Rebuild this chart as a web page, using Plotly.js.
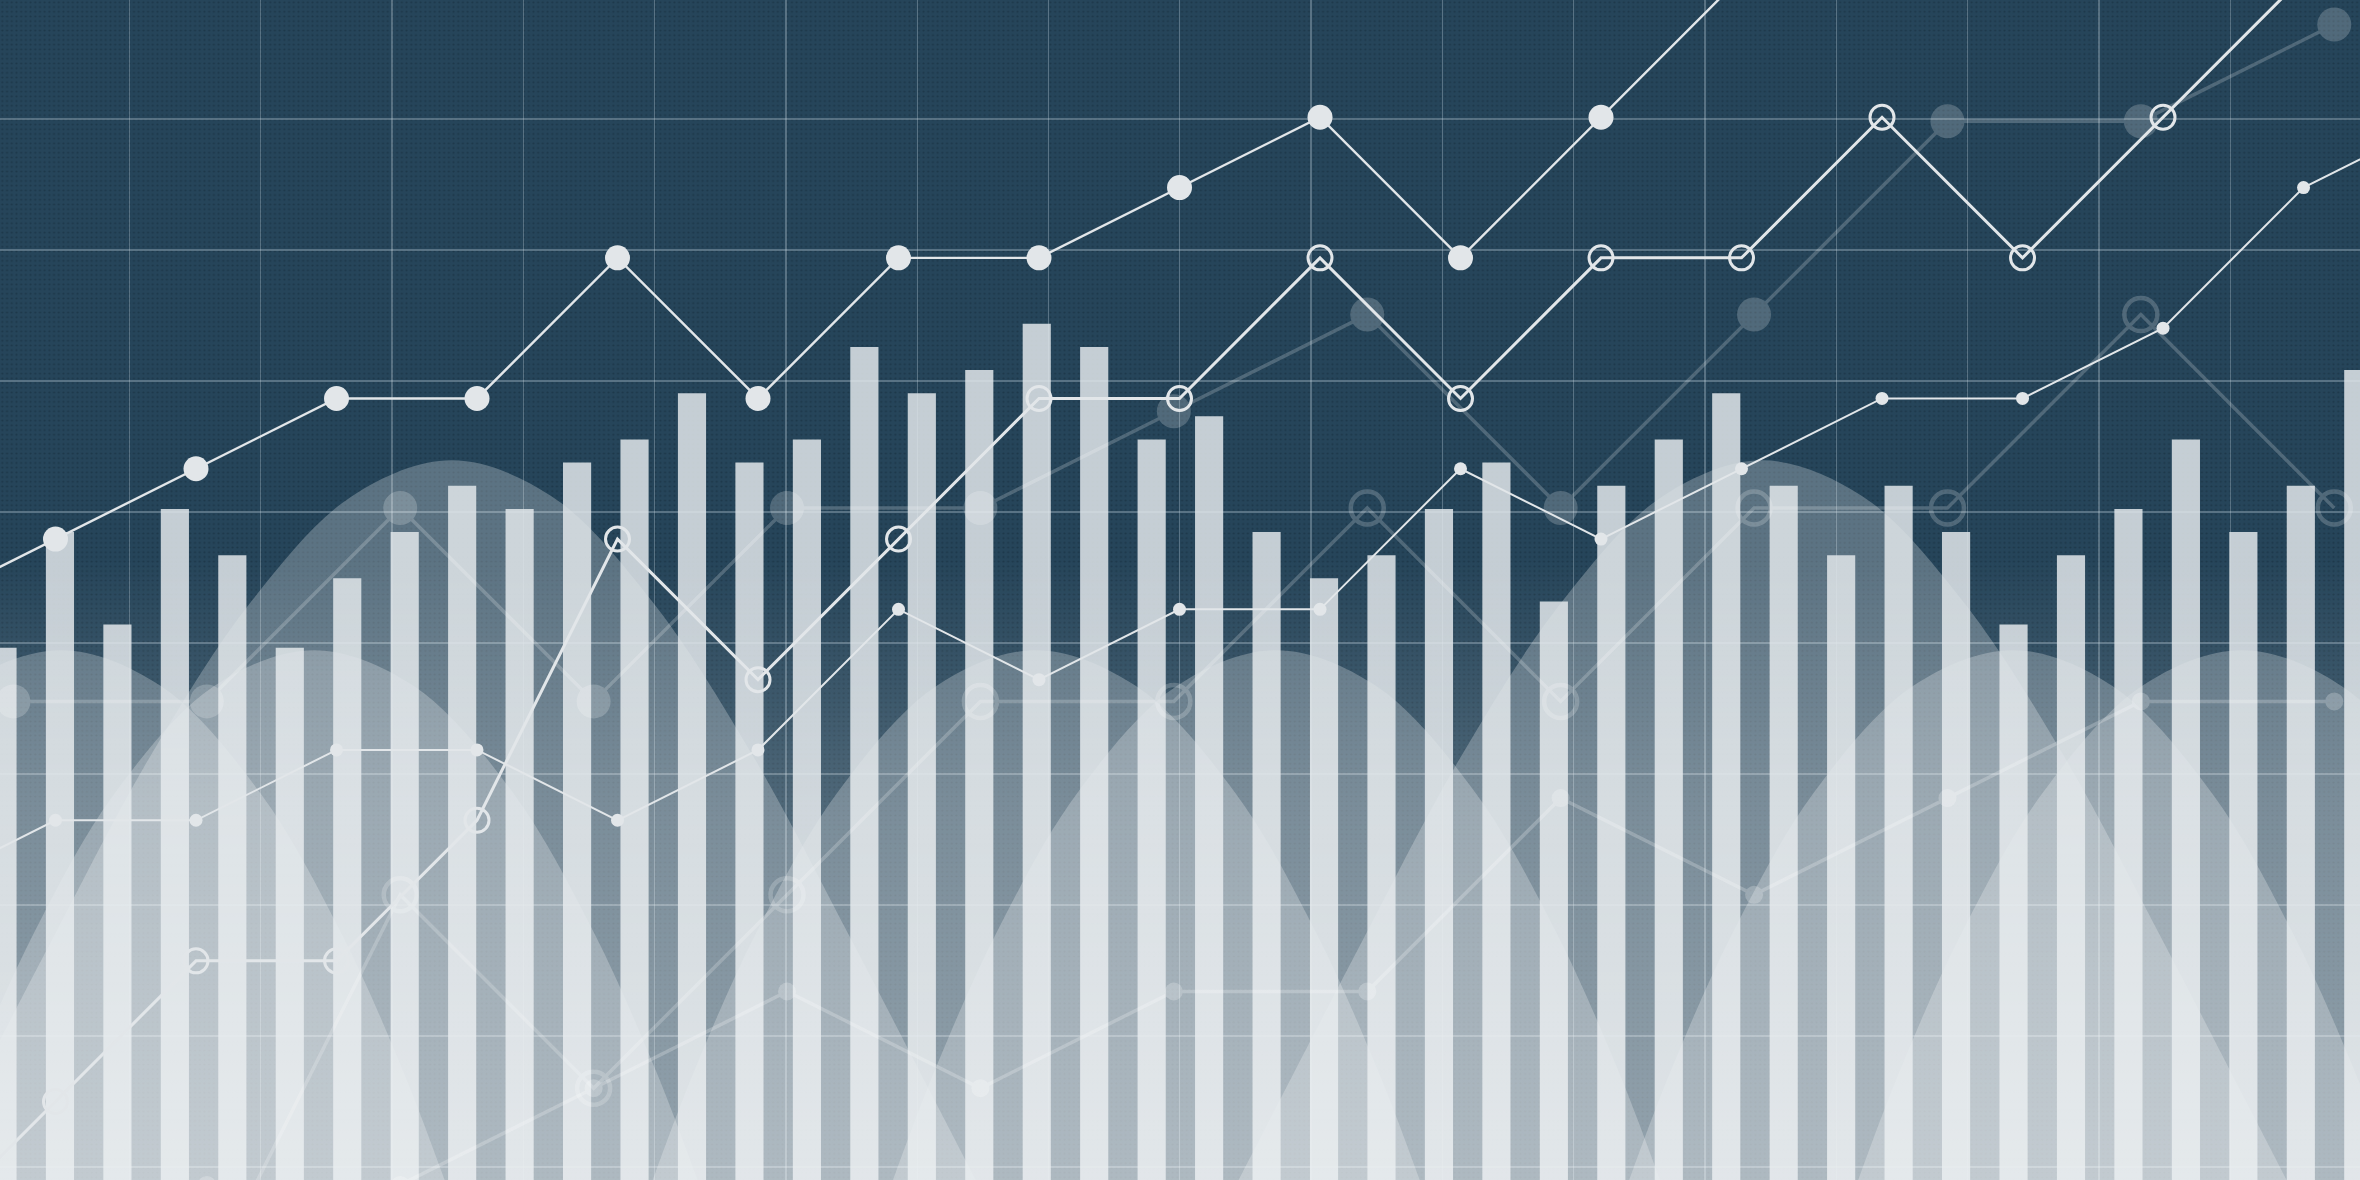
<!DOCTYPE html>
<html>
<head>
<meta charset="utf-8">
<script src="https://cdn.plot.ly/plotly-3.0.1.min.js"></script>
<style>
html,body{margin:0;padding:0;background:#26455a;overflow:hidden}
#chart{width:2360px;height:1180px}
</style>
</head>
<body>
<div id="chart"></div>
<script>
// ---------- DATA ----------
// Bar heights (42 bars, left to right)
const barValues = [23,28,24,29,27,23,26,28,30,29,31,32,34,31,32,36,34,35,37,36,32,33,28,26,27,29,31,25,30,32,34,30,27,30,28,24,27,29,32,28,30,35];

// Main line series (x = step index, y = level)
const topLineX  = [-1,0,1,2,3,4,5,6,7,8,9,10,11,12];
const topLineY  = [8,9,10,11,11,13,11,13,13,14,15,13,15,17];
const ringLineX = [-1,0,1,2,3,4,5,6,7,8,9,10,11,12,13,14,15,16];
const ringLineY = [-1,1,3,3,5,9,7,9,11,11,13,11,13,13,15,13,15,17];
const dotLineX  = [-1,0,1,2,3,4,5,6,7,8,9,10,11,12,13,14,15,16,17];
const dotLineY  = [4,5,5,6,6,5,6,8,7,8,8,10,9,10,11,11,12,14,15];

// Faint background series (own step index / level)
const faintDiscX = [0,1,2,3,4,5,6,7,8,9,10,11,12];
const faintDiscY = [5,5,7,5,7,7,8,9,7,9,11,11,12];
const faintRingX = [1,2,3,4,5,6,7,8,9,10,11,12];
const faintRingY = [-1,3,1,3,5,5,7,5,7,7,9,7];
const faintDotX  = [1,2,3,4,5,6,7,8,9,10,11,12];
const faintDotY  = [0,0,1,2,1,2,2,4,3,4,5,5];

// Bell curves: shared outlines (offset from centre, level)
const bigBellOffsets   = [-4.4,-4.06,-3.73,-3.42,-2.85,-2.14,-1.42,-0.71,0,0.71,1.42,2.14,2.85,3.42,3.73,4.06,4.4];
const bigBellLevels    = [-2.6,-1.4,-0.12,1.08,3.28,5.93,8.13,9.61,10.12,9.61,8.13,5.93,3.28,1.08,-0.12,-1.4,-2.6];
const smallBellOffsets = [-3.3,-2.99,-2.73,-2.42,-1.99,-1.42,-0.71,0,0.71,1.42,1.99,2.42,2.73,2.99,3.3];
const smallBellLevels  = [-2.5,-1.61,-0.12,1.5,3.41,5.38,6.91,7.42,6.91,5.38,3.41,1.5,-0.12,-1.61,-2.5];
const bigBellCentres   = [2.82,12.15];
const smallBellCentres = [0.04,1.84,6.98,8.69,13.93,15.56];

// ---------- STYLE ----------
const BG = '#26455a';
const LINE = '#e2e6e9';
const traces = [];

// bells (base subplot, below everything)
function addBell(c, offs, lv){
  traces.push({
    type:'scatter', xaxis:'x', yaxis:'y',
    x: offs.map(o => c + o), y: lv,
    mode:'lines', line:{width:0, shape:'spline', smoothing:1},
    fill:'toself', fillcolor:'rgba(255,255,255,0.25)',
    hoverinfo:'skip', showlegend:false
  });
}
bigBellCentres.forEach(c => addBell(c, bigBellOffsets, bigBellLevels));
smallBellCentres.forEach(c => addBell(c, smallBellOffsets, smallBellLevels));

// bars
traces.push({
  type:'bar', xaxis:'x2', yaxis:'y2',
  x: barValues.map((_, k) => k), y: barValues,
  width: 0.49,
  marker:{color:'rgba(224,229,233,0.86)', line:{width:0}},
  hoverinfo:'skip', showlegend:false
});

// faint series
traces.push({
  type:'scatter', xaxis:'x3', yaxis:'y3', x: faintDiscX, y: faintDiscY,
  mode:'lines+markers', opacity:0.2,
  line:{color:'#ffffff', width:3.5},
  marker:{symbol:'circle', size:34, color:'#ffffff'},
  hoverinfo:'skip', showlegend:false
});
traces.push({
  type:'scatter', xaxis:'x3', yaxis:'y3', x: faintRingX, y: faintRingY,
  mode:'lines+markers', opacity:0.2,
  line:{color:'#ffffff', width:3.5},
  marker:{symbol:'circle-open', size:33, color:'#ffffff', line:{width:4.5, color:'#ffffff'}},
  hoverinfo:'skip', showlegend:false
});
traces.push({
  type:'scatter', xaxis:'x3', yaxis:'y3', x: faintDotX, y: faintDotY,
  mode:'lines+markers', opacity:0.22,
  line:{color:'#ffffff', width:3.5},
  marker:{symbol:'circle', size:18, color:'#ffffff'},
  hoverinfo:'skip', showlegend:false
});

// gradient wash over the lower part
traces.push({
  type:'scatter', xaxis:'x4', yaxis:'y4',
  x:[0,1,1,0], y:[0,0,0.53,0.53],
  mode:'lines', line:{width:0},
  fill:'toself',
  fillgradient:{type:'vertical', start:0, stop:0.53,
    colorscale:[[0,'rgba(255,255,255,0.34)'],[0.6,'rgba(255,255,255,0.19)'],[1,'rgba(255,255,255,0)']]},
  hoverinfo:'skip', showlegend:false
});

// main lines
traces.push({
  type:'scatter', xaxis:'x5', yaxis:'y5', x: dotLineX, y: dotLineY,
  mode:'lines+markers', line:{color:LINE, width:2},
  marker:{symbol:'circle', size:13, color:LINE},
  hoverinfo:'skip', showlegend:false
});
traces.push({
  type:'scatter', xaxis:'x5', yaxis:'y5', x: ringLineX, y: ringLineY,
  mode:'lines+markers', line:{color:LINE, width:3},
  marker:{symbol:'circle-open', size:24, color:LINE, line:{width:3, color:LINE}},
  hoverinfo:'skip', showlegend:false
});
traces.push({
  type:'scatter', xaxis:'x5', yaxis:'y5', x: topLineX, y: topLineY,
  mode:'lines+markers', line:{color:LINE, width:2.4},
  marker:{symbol:'circle', size:25, color:LINE},
  hoverinfo:'skip', showlegend:false
});

// ---------- LAYOUT ----------
const hidden = {showgrid:false, zeroline:false, showline:false, showticklabels:false, ticks:'', fixedrange:true};
const lineXRange = [-0.395, 16.402];
const lineYRange = [-0.117, 16.668];

const dotSvg = "<svg xmlns='http://www.w3.org/2000/svg' width='2360' height='1180'>" +
  "<defs><pattern id='d' width='4.7' height='4.7' patternUnits='userSpaceOnUse'>" +
  "<circle cx='2.35' cy='2.35' r='1.05' fill='#1b3445'/></pattern></defs>" +
  "<rect width='2360' height='1180' fill='url(#d)'/></svg>";

const layout = {
  width:2360, height:1180,
  margin:{l:0,r:0,t:0,b:0,pad:0},
  paper_bgcolor:BG, plot_bgcolor:BG,
  showlegend:false, hovermode:false,
  images:[{
    source:'data:image/svg+xml;charset=utf-8,' + encodeURIComponent(dotSvg),
    xref:'paper', yref:'paper', x:0, y:1, sizex:1, sizey:1,
    xanchor:'left', yanchor:'top', sizing:'stretch', layer:'below', opacity:0.8
  }],
  xaxis: Object.assign({}, hidden, {range:lineXRange, showgrid:true, gridcolor:'rgba(200,215,225,0.32)', gridwidth:1.3, tick0:0.526, dtick:0.9345, tickmode:'linear'}),
  yaxis: Object.assign({}, hidden, {range:lineYRange, showgrid:true, gridcolor:'rgba(200,215,225,0.32)', gridwidth:1.3, tick0:0.069, dtick:1.8634, tickmode:'linear'}),
  xaxis2: Object.assign({}, hidden, {overlaying:'x', anchor:'y2', range:[-0.0435, 41.03]}),
  yaxis2: Object.assign({}, hidden, {overlaying:'y', anchor:'x2', range:[0, 50.99]}),
  xaxis3: Object.assign({}, hidden, {overlaying:'x', anchor:'y3', range:[-0.0693, 12.133]}),
  yaxis3: Object.assign({}, hidden, {overlaying:'y', anchor:'x3', range:[0.0507, 12.253]}),
  xaxis4: Object.assign({}, hidden, {overlaying:'x', anchor:'y4', range:[0, 1]}),
  yaxis4: Object.assign({}, hidden, {overlaying:'y', anchor:'x4', range:[0, 1]}),
  xaxis5: Object.assign({}, hidden, {overlaying:'x', anchor:'y5', range:lineXRange}),
  yaxis5: Object.assign({}, hidden, {overlaying:'y', anchor:'x5', range:lineYRange})
};

Plotly.newPlot('chart', traces, layout, {staticPlot:true, displayModeBar:false});
</script>
</body>
</html>
